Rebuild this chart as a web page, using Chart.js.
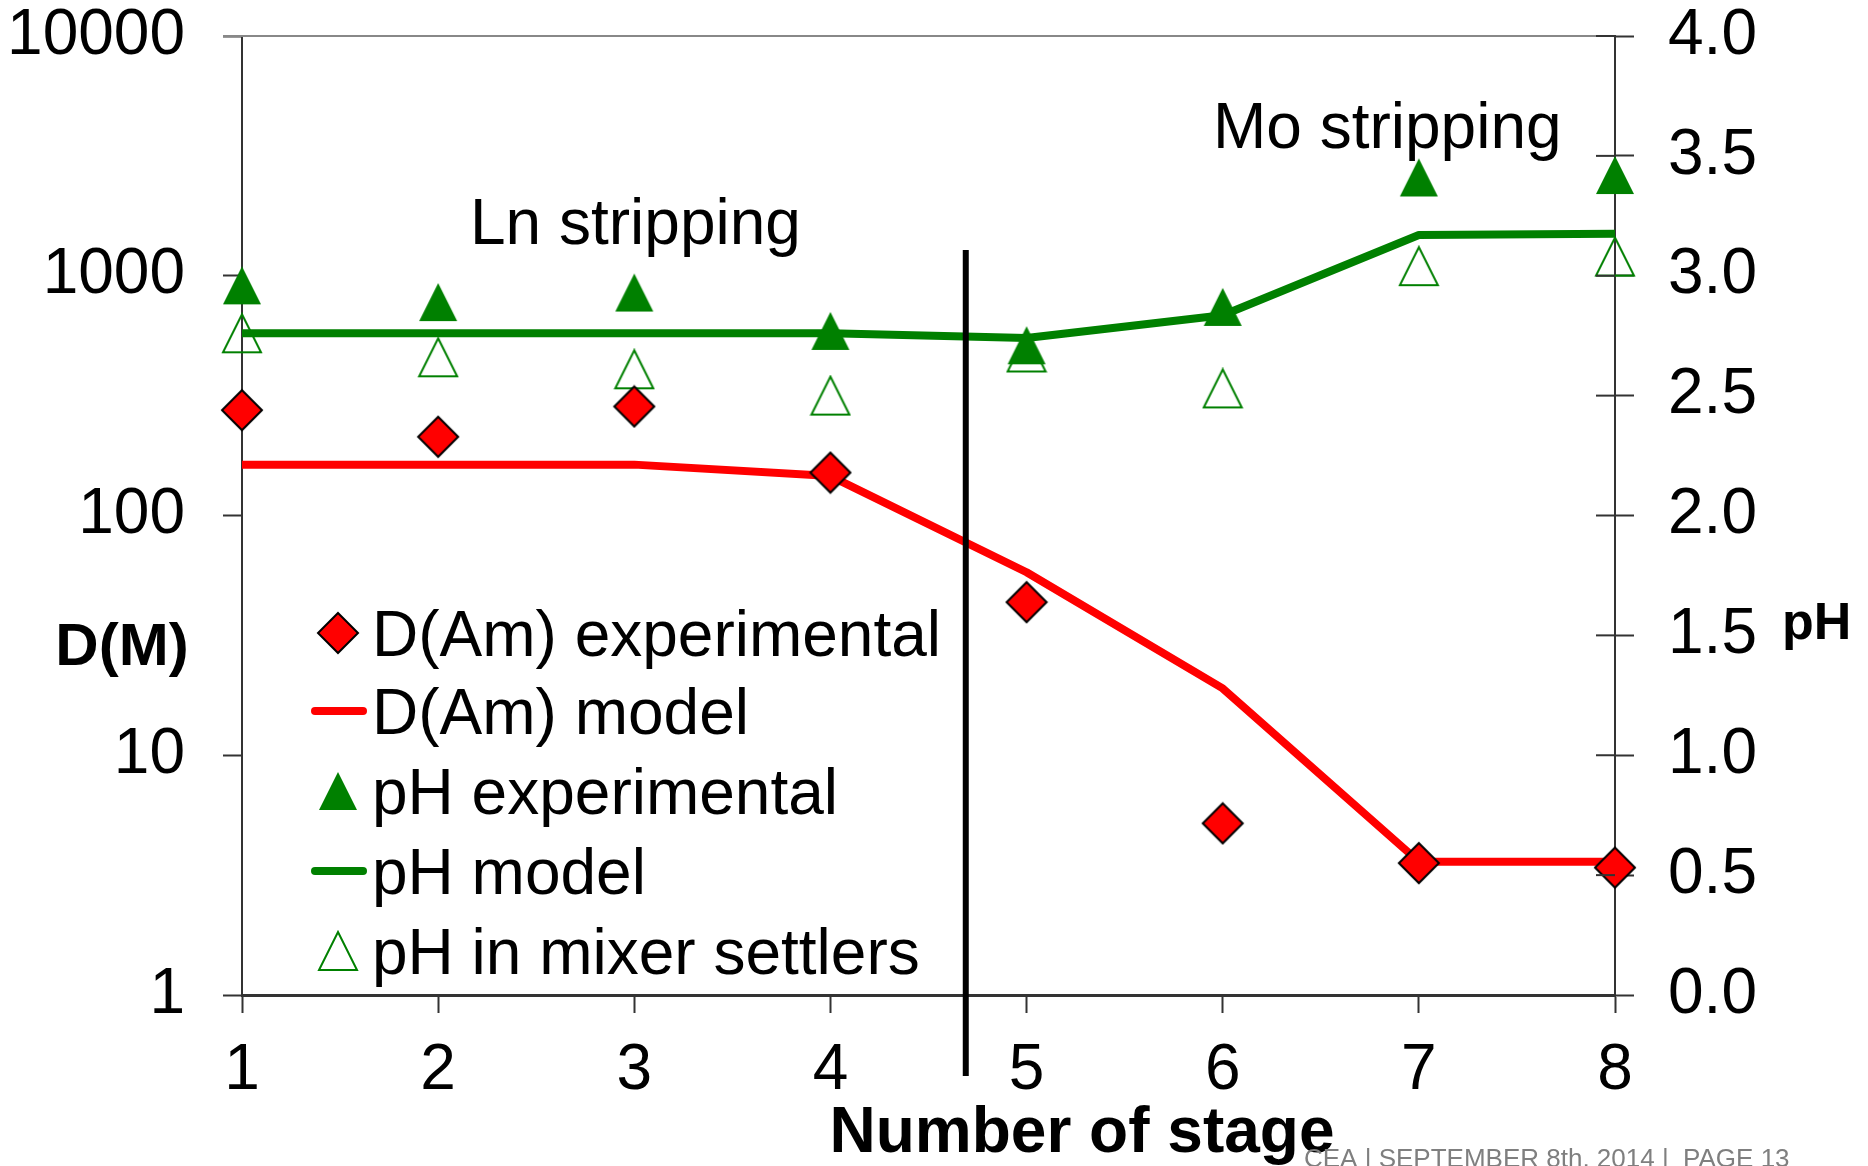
<!DOCTYPE html>
<html lang="en">
<head>
<meta charset="utf-8">
<title>D(Am) and pH per stage</title>
<script src="https://cdn.jsdelivr.net/npm/chart.js@4.4.1/dist/chart.umd.min.js"></script>
<style>
  html, body { margin: 0; padding: 0; background: #fff; }
  .chart-wrap { position: relative; width: 1868px; height: 1166px; }
</style>
</head>
<body>
<div class="chart-wrap"><canvas id="stageChart"></canvas></div>
<script>
'use strict';

/* ── DATA ── */
const stages = [1, 2, 3, 4, 5, 6, 7, 8];
const dAmExperimental = [275, 213, 285, 151, 43.5, 5.2, 3.55, 3.4];
const dAmModel        = [163, 163, 163, 146, 58, 19, 3.6, 3.6];
const phExperimental  = [2.96, 2.89, 2.93, 2.77, 2.71, 2.87, 3.41, 3.42];
const phModel         = [2.76, 2.76, 2.76, 2.76, 2.74, 2.835, 3.17, 3.175];
const phMixerSettlers = [2.76, 2.66, 2.61, 2.50, 2.68, 2.53, 3.04, 3.08];
const dTicks  = [1, 10, 100, 1000, 10000];
const phTicks = [0, 0.5, 1, 1.5, 2, 2.5, 3, 3.5, 4];
const seriesNames = ['D(Am) experimental', 'D(Am) model', 'pH experimental', 'pH model', 'pH in mixer settlers'];

const RED   = '#ff0000';
const GREEN = '#008000';
const AXIS  = '#333333';
const FONT  = "'Liberation Sans', Arial, sans-serif";

/* ── MARKERS (drawn once, used as point styles) ── */
function makeMarker(size, draw) {
  const c = document.createElement('canvas');
  c.width = size;
  c.height = size;
  draw(c.getContext('2d'), size);
  return c;
}

const diamond = makeMarker(44, (ctx, s) => {
  const m = s / 2, r = 20;
  ctx.beginPath();
  ctx.moveTo(m, m - r);
  ctx.lineTo(m + r, m);
  ctx.lineTo(m, m + r);
  ctx.lineTo(m - r, m);
  ctx.closePath();
  ctx.fillStyle = RED;
  ctx.fill();
  ctx.lineWidth = 2;
  ctx.strokeStyle = '#000';
  ctx.stroke();
});

function trianglePath(ctx, s) {
  ctx.beginPath();
  ctx.moveTo(s / 2, 2);
  ctx.lineTo(s - 2, s - 2);
  ctx.lineTo(2, s - 2);
  ctx.closePath();
}

const triFilled = makeMarker(42, (ctx, s) => {
  trianglePath(ctx, s);
  ctx.fillStyle = GREEN;
  ctx.fill();
});

const triOpen = makeMarker(42, (ctx, s) => {
  trianglePath(ctx, s);
  ctx.lineWidth = 2;
  ctx.strokeStyle = GREEN;
  ctx.stroke();
});

const toPoints = ys => stages.map((x, i) => ({ x, y: ys[i] }));

// fixed axis box, no extra room for half tick labels
function fixWidth(w) {
  return s => {
    s.width = w;
    s.paddingTop = 0;
    s.paddingBottom = 0;
  };
}

/* ── DECORATIONS: separator, labels, legend ── */
const decorPlugin = {
  id: 'decor',
  afterDatasetsDraw(chart) {
    const { ctx, chartArea, scales } = chart;
    // stage boundary between Ln and Mo stripping
    const bx = scales.x.getPixelForValue(4.69);
    const top = scales.y.getPixelForValue(1280);
    ctx.save();
    ctx.strokeStyle = '#000';
    ctx.lineWidth = 6;
    ctx.beginPath();
    ctx.moveTo(bx, top);
    ctx.lineTo(bx, chartArea.bottom + 81);
    ctx.stroke();
    ctx.restore();
  },
  afterDraw(chart) {
    const { ctx, chartArea, scales } = chart;
    ctx.save();

    // top frame line
    ctx.strokeStyle = '#888';
    ctx.lineWidth = 2;
    ctx.beginPath();
    ctx.moveTo(chartArea.left - 19, chartArea.top);
    ctx.lineTo(chartArea.right, chartArea.top);
    ctx.stroke();

    // right axis ticks also cross inwards
    ctx.strokeStyle = AXIS;
    phTicks.forEach(v => {
      const y = scales.y2.getPixelForValue(v);
      ctx.beginPath();
      ctx.moveTo(chartArea.right - 19, y);
      ctx.lineTo(chartArea.right, y);
      ctx.stroke();
    });

    // text labels
    ctx.fillStyle = '#000';
    ctx.textBaseline = 'alphabetic';
    ctx.textAlign = 'left';
    ctx.font = '64px ' + FONT;
    ctx.fillText('Ln stripping', 470, 244);
    ctx.fillText('Mo stripping', 1213, 148);

    ctx.font = 'bold 60px ' + FONT;
    ctx.textAlign = 'center';
    ctx.fillText('D(M)', 122, 665);

    ctx.font = 'bold 52px ' + FONT;
    ctx.textAlign = 'left';
    ctx.fillText('pH', 1782, 639);

    ctx.font = 'bold 64px ' + FONT;
    ctx.textAlign = 'center';
    ctx.fillText('Number of stage', 1082, 1152);

    ctx.font = '26px ' + FONT;
    ctx.textAlign = 'left';
    ctx.fillStyle = '#7f7f7f';
    ctx.fillText('CEA | SEPTEMBER 8th, 2014 |  PAGE 13', 1304, 1167);

    // legend
    const rows = [633, 711, 791, 871, 951];
    const mx = 338;
    const legendMarks = [
      { img: diamond }, { line: RED }, { img: triFilled }, { line: GREEN }, { img: triOpen }
    ];
    ctx.font = '64px ' + FONT;
    ctx.fillStyle = '#000';
    rows.forEach((y, i) => {
      const mk = legendMarks[i];
      if (mk.img) {
        ctx.drawImage(mk.img, mx - mk.img.width / 2, y - mk.img.height / 2);
      } else {
        ctx.strokeStyle = mk.line;
        ctx.lineWidth = 8;
        ctx.lineCap = 'round';
        ctx.beginPath();
        ctx.moveTo(315, y);
        ctx.lineTo(363, y);
        ctx.stroke();
      }
      ctx.fillText(seriesNames[i], 372, y + 23);
    });

    ctx.restore();
  }
};

/* ── CHART ── */
Chart.defaults.font.family = FONT;
Chart.defaults.color = '#000';

new Chart(document.getElementById('stageChart'), {
  type: 'line',
  data: {
    datasets: [
      { label: seriesNames[0], data: toPoints(dAmExperimental), yAxisID: 'y',
        showLine: false, pointStyle: diamond, pointRadius: 20, order: 1, clip: false },
      { label: seriesNames[1], data: toPoints(dAmModel), yAxisID: 'y',
        borderColor: RED, borderWidth: 8, pointRadius: 0, order: 2, clip: false },
      { label: seriesNames[2], data: toPoints(phExperimental), yAxisID: 'y2',
        showLine: false, pointStyle: triFilled, pointRadius: 20, order: 3, clip: false },
      { label: seriesNames[3], data: toPoints(phModel), yAxisID: 'y2',
        borderColor: GREEN, borderWidth: 8, pointRadius: 0, order: 4, clip: false },
      { label: seriesNames[4], data: toPoints(phMixerSettlers), yAxisID: 'y2',
        showLine: false, pointStyle: triOpen, pointRadius: 20, order: 5, clip: false }
    ]
  },
  options: {
    responsive: true,
    maintainAspectRatio: false,
    animation: false,
    layout: { padding: { top: 36, left: 0, right: 0, bottom: 0 }, autoPadding: false },
    elements: { line: { tension: 0, borderJoinStyle: 'round' } },
    plugins: {
      legend: { display: false },
      tooltip: { enabled: false }
    },
    scales: {
      x: {
        type: 'linear',
        min: 1,
        max: 8,
        afterBuildTicks: s => { s.ticks = stages.map(v => ({ value: v })); },
        afterFit: s => { s.height = 171; s.paddingLeft = 0; s.paddingRight = 0; },
        grid: { drawOnChartArea: false, tickLength: 18, tickColor: AXIS, tickWidth: 2 },
        border: { color: AXIS, width: 3 },
        ticks: { font: { size: 64 }, padding: 20, maxRotation: 0, callback: v => String(v) }
      },
      y: {
        type: 'logarithmic',
        position: 'left',
        min: 1,
        max: 10000,
        afterBuildTicks: s => { s.ticks = dTicks.map(v => ({ value: v })); },
        afterFit: fixWidth(242),
        grid: { drawOnChartArea: false, tickLength: 19, tickColor: AXIS, tickWidth: 2 },
        border: { color: AXIS, width: 2 },
        ticks: { font: { size: 64 }, padding: 38, callback: v => String(v) }
      },
      y2: {
        type: 'linear',
        position: 'right',
        min: 0,
        max: 4,
        afterBuildTicks: s => { s.ticks = phTicks.map(v => ({ value: v })); },
        afterFit: fixWidth(253),
        grid: { drawOnChartArea: false, tickLength: 19, tickColor: AXIS, tickWidth: 2 },
        border: { color: AXIS, width: 2 },
        ticks: { font: { size: 64 }, padding: 34, callback: v => Number(v).toFixed(1) }
      }
    }
  },
  plugins: [decorPlugin]
});
</script>
</body>
</html>
